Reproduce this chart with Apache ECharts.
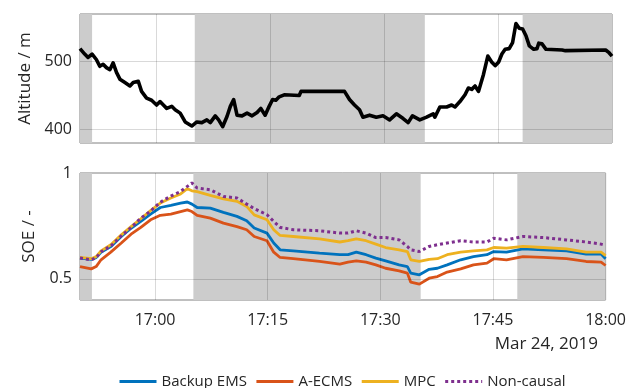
<!DOCTYPE html>
<html>
<head>
<meta charset="utf-8">
<script src="https://cdn.jsdelivr.net/npm/echarts@6/dist/echarts.min.js"></script>
<style>
html,body{margin:0;padding:0;background:#fff;}
#chart{width:629px;height:388px;}
</style>
</head>
<body>
<div id="chart"></div>
<script>
// Time values are minutes after 16:00 on Mar 24, 2019
var timeMin = 50, timeMax = 120;
var gridTimes = [60, 75, 90, 105];
var shadeStart = [50, 65.1, 95.37, 108.24];
var shadeEnd   = [51.59, 95.37, 108.24, 120];
var shadeOn    = [true, true, false, true];

var altTicks = [400, 500];
var soeTicks = [0.5, 1];

var altTime = [50.0, 50.62, 51.06, 51.59, 52.15, 52.6, 53.04, 53.48, 53.93, 54.36, 54.8, 55.25, 55.91, 56.57, 57.0, 57.67, 58.1, 58.76, 59.42, 60.08, 60.53, 60.97, 61.41, 62.07, 62.52, 63.18, 63.84, 64.71, 65.37, 66.03, 66.69, 67.14, 67.8, 68.24, 68.77, 69.34, 69.78, 70.22, 70.66, 71.32, 71.98, 72.64, 73.3, 73.79, 74.36, 74.89, 75.34, 75.77, 76.21, 76.87, 78.85, 79.08, 84.8, 85.46, 86.12, 86.78, 87.23, 88.1, 88.99, 89.87, 90.74, 91.63, 92.52, 93.18, 93.75, 94.71, 95.6, 96.48, 96.69, 97.35, 98.24, 98.9, 99.34, 99.99, 100.66, 101.1, 101.54, 101.98, 102.43, 103.09, 103.66, 104.19, 104.62, 105.07, 105.51, 105.94, 106.47, 106.92, 107.36, 107.79, 108.24, 108.68, 109.12, 109.7, 110.13, 110.36, 110.79, 111.32, 113.44, 113.87, 119.16, 119.61, 120.0];
var altValue = [519, 511, 506, 511, 503, 493, 496, 491, 488, 498, 484, 474, 469, 464, 469, 471, 456, 446, 443, 436, 441, 436, 431, 434, 429, 424, 411, 405, 411, 410, 414, 410, 420, 414, 404, 419, 434, 444, 421, 420, 424, 420, 425, 431, 421, 434, 444, 443, 448, 451, 450, 456, 456, 444, 436, 429, 418, 421, 418, 420, 414, 423, 416, 410, 420, 414, 418, 423, 418, 433, 433, 436, 433, 441, 451, 461, 459, 464, 456, 481, 508, 499, 494, 499, 511, 518, 519, 528, 556, 549, 548, 538, 523, 518, 519, 527, 526, 518, 517, 516, 517, 513, 508];

var soeTime = [50.0, 51.5, 52.15, 52.8, 54.1, 55.5, 56.8, 58.1, 59.4, 60.7, 62.1, 63.4, 64.3, 64.9, 65.6, 67.35, 69.1, 70.9, 72.2, 73.2, 74.9, 75.8, 76.65, 78.4, 81.9, 84.6, 85.7, 86.8, 88.1, 89.4, 90.7, 92.5, 93.6, 94.05, 95.2, 96.5, 97.6, 98.9, 100.7, 102.4, 104.2, 105.1, 106.8, 109.0, 111.7, 114.8, 117.4, 119.4, 120];
var backupEMS = [0.598, 0.592, 0.600, 0.625, 0.652, 0.700, 0.739, 0.771, 0.806, 0.837, 0.847, 0.858, 0.863, 0.853, 0.837, 0.834, 0.814, 0.795, 0.774, 0.740, 0.716, 0.669, 0.637, 0.632, 0.621, 0.614, 0.614, 0.626, 0.614, 0.598, 0.585, 0.566, 0.558, 0.527, 0.519, 0.545, 0.550, 0.566, 0.590, 0.605, 0.614, 0.629, 0.626, 0.642, 0.637, 0.632, 0.617, 0.617, 0.595];
var aECMS = [0.558, 0.547, 0.558, 0.590, 0.626, 0.669, 0.711, 0.743, 0.779, 0.800, 0.806, 0.818, 0.826, 0.818, 0.800, 0.787, 0.763, 0.747, 0.732, 0.700, 0.680, 0.626, 0.601, 0.595, 0.582, 0.570, 0.579, 0.585, 0.579, 0.566, 0.550, 0.538, 0.527, 0.484, 0.475, 0.503, 0.511, 0.532, 0.547, 0.566, 0.574, 0.595, 0.590, 0.605, 0.601, 0.595, 0.582, 0.579, 0.563];
var mpc = [0.601, 0.595, 0.605, 0.632, 0.661, 0.708, 0.747, 0.784, 0.822, 0.858, 0.882, 0.901, 0.926, 0.916, 0.912, 0.894, 0.878, 0.866, 0.842, 0.802, 0.779, 0.732, 0.705, 0.700, 0.689, 0.674, 0.680, 0.689, 0.680, 0.664, 0.648, 0.637, 0.629, 0.590, 0.582, 0.592, 0.595, 0.614, 0.626, 0.632, 0.637, 0.648, 0.645, 0.653, 0.648, 0.642, 0.626, 0.626, 0.610];
var nonCausal = [0.598, 0.590, 0.600, 0.628, 0.655, 0.703, 0.742, 0.787, 0.820, 0.862, 0.891, 0.913, 0.937, 0.953, 0.929, 0.921, 0.889, 0.882, 0.853, 0.832, 0.803, 0.771, 0.743, 0.732, 0.727, 0.716, 0.716, 0.727, 0.716, 0.695, 0.695, 0.684, 0.653, 0.637, 0.629, 0.653, 0.661, 0.669, 0.680, 0.674, 0.674, 0.692, 0.684, 0.700, 0.695, 0.684, 0.674, 0.664, 0.658];

var seriesNames = ['Backup EMS', 'A-ECMS', 'MPC', 'Non-causal'];
var seriesColors = ['#0072BD', '#D95319', '#EDB120', '#7E2F8E'];
var dateLabel = 'Mar 24, 2019';

var FONT = 'Open Sans';
var TXT = '#262626';
var GRIDC = 'rgba(0,0,0,0.15)';

function fmtTime(v) {
  if (Math.round(v) % 15 !== 0 || v === timeMin) return '';
  var h = 16 + Math.floor(v / 60);
  var m = Math.round(v % 60);
  return h + ':' + (m < 10 ? '0' + m : m);
}
function pairs(ts, vs) { return ts.map(function (t, i) { return [t, vs[i]]; }); }

var shadeAreas = [];
for (var i = 0; i < shadeStart.length; i++) {
  if (shadeOn[i]) shadeAreas.push([{ xAxis: shadeStart[i] }, { xAxis: shadeEnd[i] }]);
}
function gridLinesFor(yTicks) {
  var arr = gridTimes.map(function (t) { return { xAxis: t }; });
  yTicks.forEach(function (v) { arr.push({ yAxis: v }); });
  return arr;
}

var chart = echarts.init(document.getElementById('chart'), null, { renderer: 'canvas' });

var xCommon = {
  type: 'value', min: timeMin, max: timeMax, interval: 5,
  axisLine: { show: false }, axisTick: { show: false }, splitLine: { show: false }
};

var series = [
  { type: 'line', xAxisIndex: 0, yAxisIndex: 0, data: [], z: 1, silent: true,
    markArea: { silent: true, itemStyle: { color: '#cccccc' }, data: shadeAreas } },
  { type: 'line', xAxisIndex: 0, yAxisIndex: 0, data: [], z: 2, silent: true,
    markLine: { silent: true, symbol: 'none', label: { show: false },
      lineStyle: { color: GRIDC, width: 1, type: 'solid' }, data: gridLinesFor([altTicks[0], altTicks[1]]) } },
  { type: 'line', xAxisIndex: 0, yAxisIndex: 0, name: 'Altitude', data: pairs(altTime, altValue), z: 3,
    showSymbol: false, symbol: 'none', color: '#000',
    lineStyle: { color: '#000', width: 3.6, join: 'round' } },
  { type: 'line', xAxisIndex: 1, yAxisIndex: 1, data: [], z: 1, silent: true,
    markArea: { silent: true, itemStyle: { color: '#cccccc' }, data: shadeAreas } },
  { type: 'line', xAxisIndex: 1, yAxisIndex: 1, data: [], z: 2, silent: true,
    markLine: { silent: true, symbol: 'none', label: { show: false },
      lineStyle: { color: GRIDC, width: 1, type: 'solid' }, data: gridLinesFor([soeTicks[0]]) } }
];
var soeValues = [backupEMS, aECMS, mpc, nonCausal];
for (var k = 0; k < 4; k++) {
  series.push({
    type: 'line', xAxisIndex: 1, yAxisIndex: 1, name: seriesNames[k],
    data: pairs(soeTime, soeValues[k]), z: 3 + k,
    showSymbol: false, symbol: 'none', color: seriesColors[k],
    lineStyle: { color: seriesColors[k], width: k === 3 ? 3 : 2.8, type: k === 3 ? [3, 3] : 'solid', cap: 'butt' }
  });
}

chart.setOption({
  animation: false,
  backgroundColor: '#fff',
  textStyle: { fontFamily: FONT, color: TXT },
  grid: [
    { left: 80, top: 14, width: 532, height: 129, show: true, borderColor: '#808080', borderWidth: 1, backgroundColor: 'transparent' },
    { left: 80, top: 173, width: 532, height: 127, show: true, borderColor: '#808080', borderWidth: 1, backgroundColor: 'transparent' }
  ],
  xAxis: [
    Object.assign({ gridIndex: 0, axisLabel: { show: false } }, xCommon),
    Object.assign({ gridIndex: 1, axisLabel: { show: true, formatter: fmtTime, fontFamily: FONT, fontSize: 16, color: TXT, margin: 12 } }, xCommon)
  ],
  yAxis: [
    { type: 'value', gridIndex: 0, min: 380, max: 570, interval: 10,
      name: 'Altitude / m', nameLocation: 'middle', nameGap: 42,
      nameTextStyle: { fontFamily: FONT, fontSize: 17, color: TXT },
      axisLine: { show: false }, axisTick: { show: false }, splitLine: { show: false },
      axisLabel: { fontFamily: FONT, fontSize: 16, color: TXT, margin: 8,
        formatter: function (v) { return altTicks.indexOf(Math.round(v)) >= 0 ? String(Math.round(v)) : ''; } } },
    { type: 'value', gridIndex: 1, min: 0.4, max: 1.0, interval: 0.1,
      name: 'SOE / -', nameLocation: 'middle', nameGap: 42,
      nameTextStyle: { fontFamily: FONT, fontSize: 17, color: TXT },
      axisLine: { show: false }, axisTick: { show: false }, splitLine: { show: false },
      axisLabel: { fontFamily: FONT, fontSize: 16, color: TXT, margin: 8,
        formatter: function (v) {
          for (var j = 0; j < soeTicks.length; j++) { if (Math.abs(v - soeTicks[j]) < 1e-6) return String(soeTicks[j]); }
          return '';
        } } }
  ],
  legend: {
    data: seriesNames, left: 118, top: 374, padding: 0, itemWidth: 37, itemHeight: 12, itemGap: 8,
    itemStyle: { opacity: 0, color: 'transparent', borderColor: 'transparent', borderWidth: 0 },
    lineStyle: { width: 3 },
    textStyle: { fontFamily: FONT, fontSize: 15, color: TXT }
  },
  graphic: [
    { type: 'text', right: 31, top: 336, style: { text: dateLabel, font: '17px "Open Sans"', fill: TXT } }
  ],
  series: series
});
</script>
</body>
</html>
